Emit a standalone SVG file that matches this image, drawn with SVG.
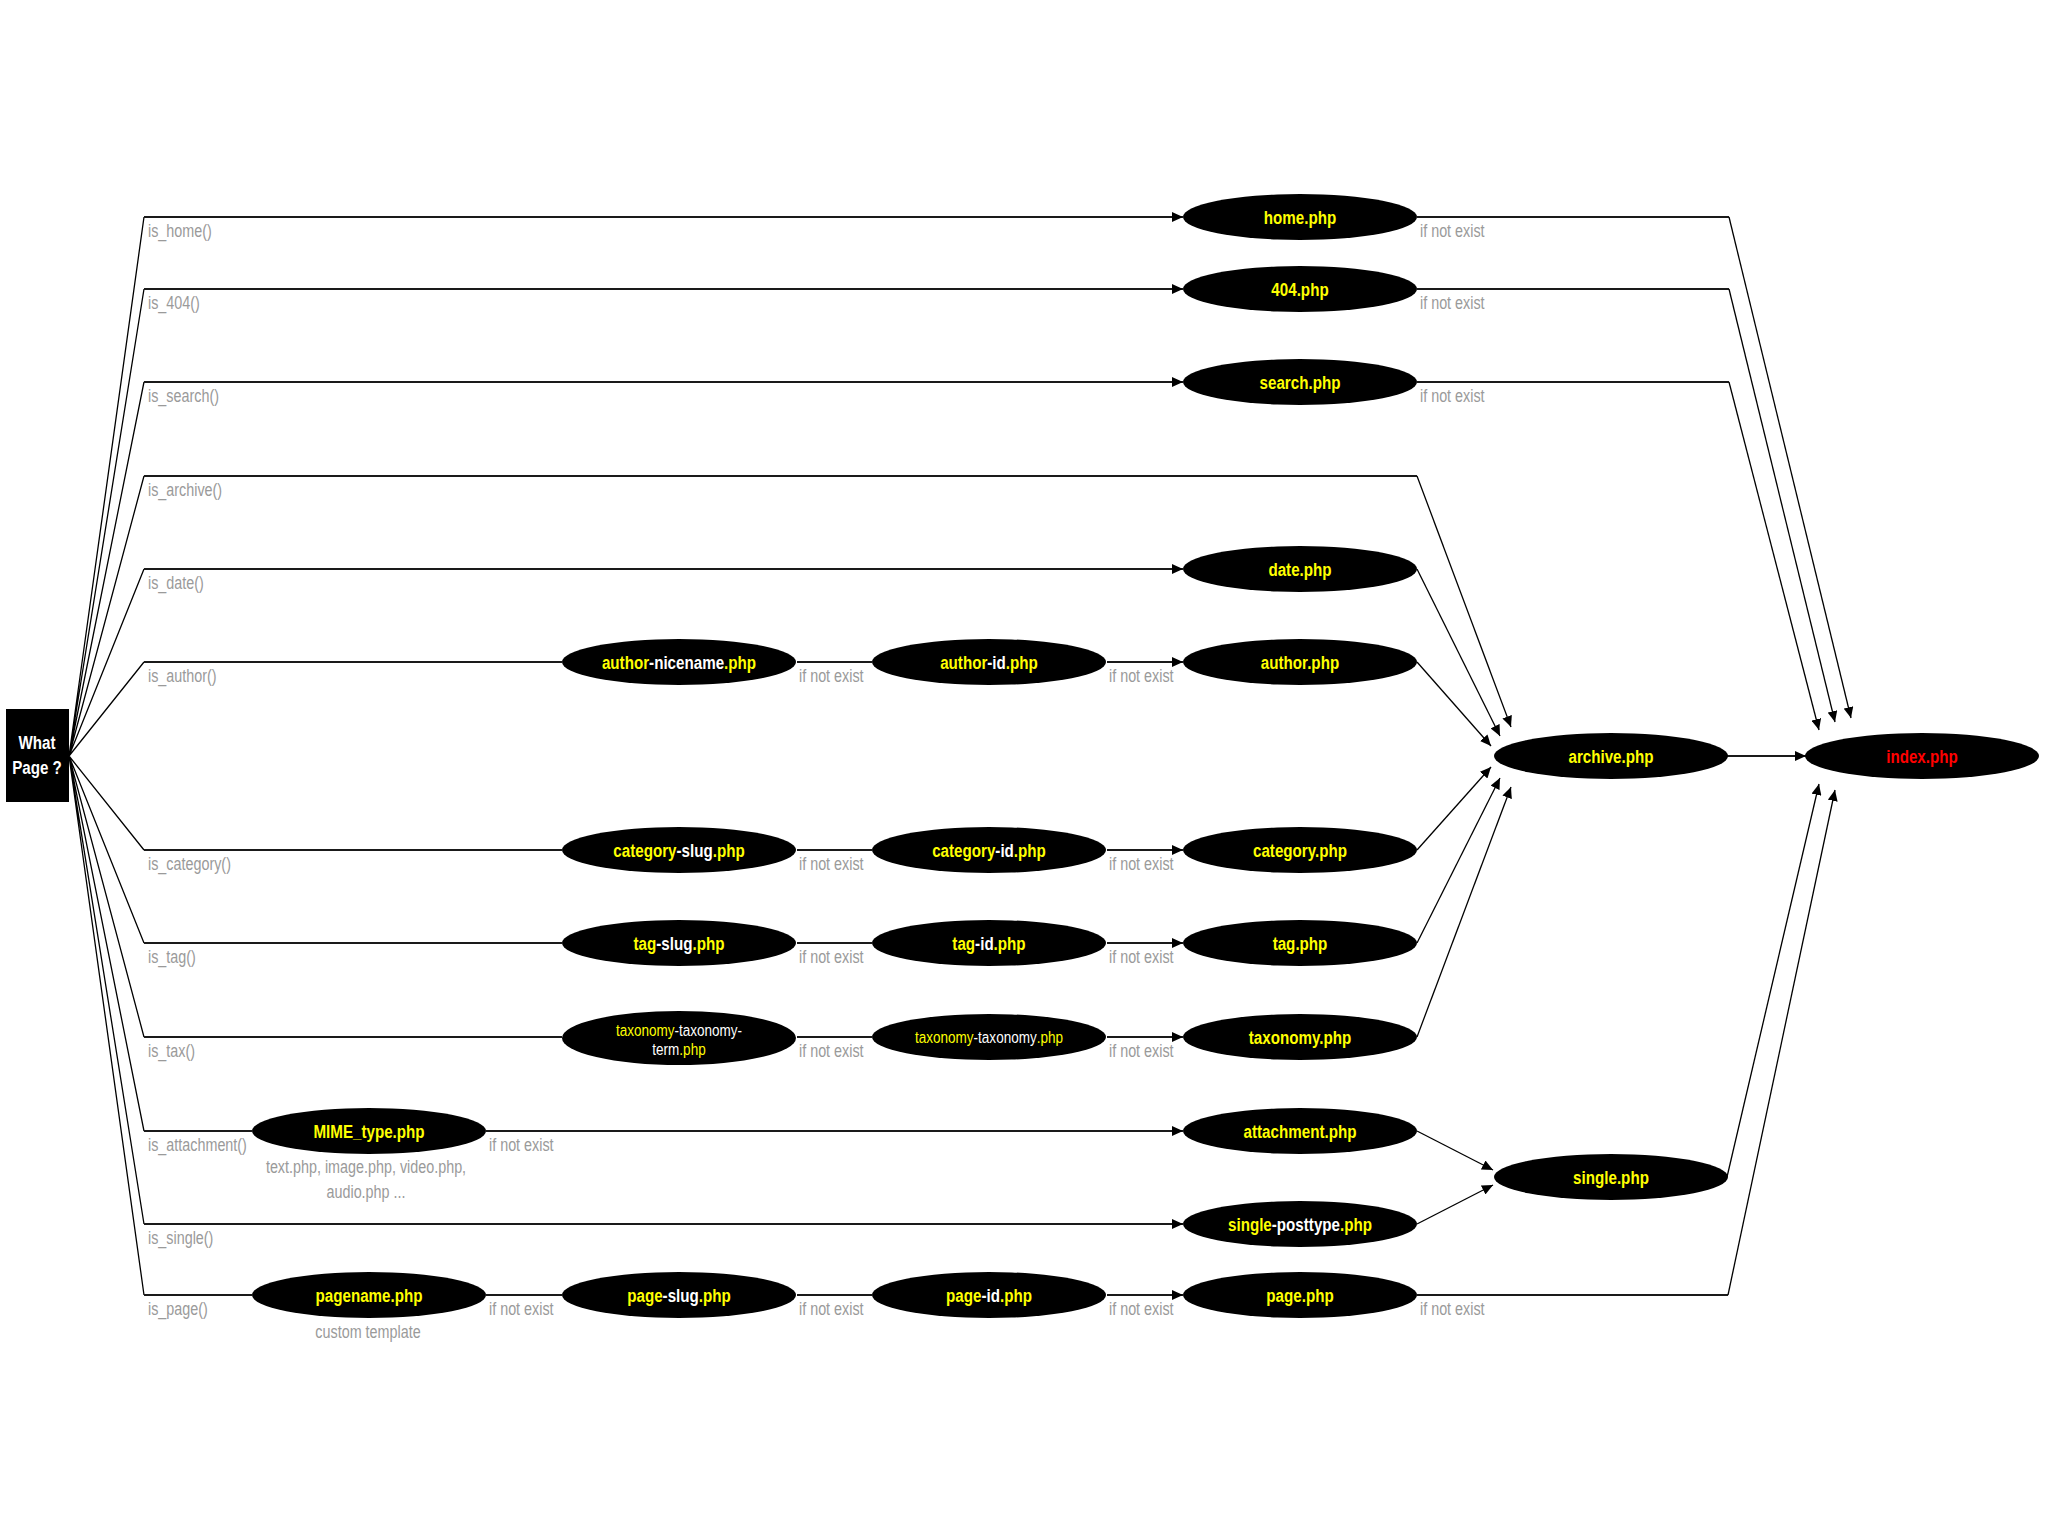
<svg xmlns="http://www.w3.org/2000/svg" width="2048" height="1535" viewBox="0 0 2048 1535">
<style>
.bg{fill:#ffffff}
.node{fill:#000000}
.lbl{font-family:"Liberation Sans",Arial,sans-serif;font-weight:bold;font-size:18.5px;text-anchor:middle;fill:#ffff00}
.sm{font-family:"Liberation Sans",Arial,sans-serif;font-size:16.5px;text-anchor:middle;fill:#ffff00}
.w{fill:#ffffff}
.r{fill:#ff0000}
.note{font-family:"Liberation Sans",Arial,sans-serif;font-size:17.5px;fill:#9a9a9a}
.mid{text-anchor:middle}
.h{stroke:#1a1a1a;stroke-width:2;fill:none}
.d{stroke:#000000;stroke-width:1.3;fill:none}
.box{font-family:"Liberation Sans",Arial,sans-serif;font-weight:bold;font-size:18.5px;text-anchor:middle;fill:#ffffff}
</style>
<defs>
<marker id="arr" markerUnits="userSpaceOnUse" markerWidth="11" markerHeight="10" refX="11" refY="5" orient="auto">
<path d="M0,0 L11,5 L0,10 z" fill="#000"/>
</marker>
</defs>
<rect class="bg" x="0" y="0" width="2048" height="1535"/>

<g id="connectors">
<path class="d" d="M69,756 L144,217 M69,756 L144,289 M69,756 L144,382 M69,756 L144,476 M69,756 L144,569 M69,756 L144,662 M69,756 L144,850 M69,756 L144,943 M69,756 L144,1037 M69,756 L144,1131 M69,756 L144,1224 M69,756 L144,1295"/>
<line class="h" x1="144" y1="217" x2="1183" y2="217" marker-end="url(#arr)"/>
<line class="h" x1="144" y1="289" x2="1183" y2="289" marker-end="url(#arr)"/>
<line class="h" x1="144" y1="382" x2="1183" y2="382" marker-end="url(#arr)"/>
<line class="h" x1="144" y1="476" x2="1417" y2="476"/>
<line class="d" x1="1417" y1="476" x2="1511" y2="727" marker-end="url(#arr)"/>
<line class="h" x1="144" y1="569" x2="1183" y2="569" marker-end="url(#arr)"/>
<line class="h" x1="144" y1="662" x2="562" y2="662"/>
<line class="h" x1="797" y1="662" x2="872" y2="662"/>
<line class="h" x1="1107" y1="662" x2="1183" y2="662" marker-end="url(#arr)"/>
<line class="h" x1="144" y1="850" x2="562" y2="850"/>
<line class="h" x1="797" y1="850" x2="872" y2="850"/>
<line class="h" x1="1107" y1="850" x2="1183" y2="850" marker-end="url(#arr)"/>
<line class="h" x1="144" y1="943" x2="562" y2="943"/>
<line class="h" x1="797" y1="943" x2="872" y2="943"/>
<line class="h" x1="1107" y1="943" x2="1183" y2="943" marker-end="url(#arr)"/>
<line class="h" x1="144" y1="1037" x2="562" y2="1037"/>
<line class="h" x1="797" y1="1037" x2="872" y2="1037"/>
<line class="h" x1="1107" y1="1037" x2="1183" y2="1037" marker-end="url(#arr)"/>
<line class="h" x1="144" y1="1131" x2="252" y2="1131"/>
<line class="h" x1="486" y1="1131" x2="1183" y2="1131" marker-end="url(#arr)"/>
<line class="h" x1="144" y1="1224" x2="1183" y2="1224" marker-end="url(#arr)"/>
<line class="h" x1="144" y1="1295" x2="252" y2="1295"/>
<line class="h" x1="486" y1="1295" x2="562" y2="1295"/>
<line class="h" x1="797" y1="1295" x2="872" y2="1295"/>
<line class="h" x1="1107" y1="1295" x2="1183" y2="1295" marker-end="url(#arr)"/>
<line class="h" x1="1417" y1="1295" x2="1728" y2="1295"/>
<line class="d" x1="1728" y1="1295" x2="1835" y2="790" marker-end="url(#arr)"/>
<line class="h" x1="1417" y1="217" x2="1729" y2="217"/>
<line class="d" x1="1729" y1="217" x2="1851" y2="718" marker-end="url(#arr)"/>
<line class="h" x1="1417" y1="289" x2="1729" y2="289"/>
<line class="d" x1="1729" y1="289" x2="1835" y2="722" marker-end="url(#arr)"/>
<line class="h" x1="1417" y1="382" x2="1729" y2="382"/>
<line class="d" x1="1729" y1="382" x2="1819" y2="730" marker-end="url(#arr)"/>
<line class="d" x1="1417" y1="569" x2="1500" y2="736" marker-end="url(#arr)"/>
<line class="d" x1="1417" y1="662" x2="1491" y2="746" marker-end="url(#arr)"/>
<line class="d" x1="1417" y1="850" x2="1491" y2="767" marker-end="url(#arr)"/>
<line class="d" x1="1417" y1="943" x2="1500" y2="778" marker-end="url(#arr)"/>
<line class="d" x1="1417" y1="1037" x2="1511" y2="787" marker-end="url(#arr)"/>
<line class="h" x1="1727" y1="756" x2="1806" y2="756" marker-end="url(#arr)"/>
<line class="d" x1="1417" y1="1131" x2="1493" y2="1170" marker-end="url(#arr)"/>
<line class="d" x1="1417" y1="1224" x2="1493" y2="1185" marker-end="url(#arr)"/>
<line class="d" x1="1727" y1="1177" x2="1819" y2="784" marker-end="url(#arr)"/>
</g>

<g id="edge-labels">
<text class="note" transform="translate(148,237) scale(0.82,1)">is_home()</text>
<text class="note" transform="translate(148,309) scale(0.82,1)">is_404()</text>
<text class="note" transform="translate(148,402) scale(0.82,1)">is_search()</text>
<text class="note" transform="translate(148,496) scale(0.82,1)">is_archive()</text>
<text class="note" transform="translate(148,589) scale(0.82,1)">is_date()</text>
<text class="note" transform="translate(148,682) scale(0.82,1)">is_author()</text>
<text class="note" transform="translate(148,870) scale(0.82,1)">is_category()</text>
<text class="note" transform="translate(148,963) scale(0.82,1)">is_tag()</text>
<text class="note" transform="translate(148,1057) scale(0.82,1)">is_tax()</text>
<text class="note" transform="translate(148,1151) scale(0.82,1)">is_attachment()</text>
<text class="note" transform="translate(148,1244) scale(0.82,1)">is_single()</text>
<text class="note" transform="translate(148,1315) scale(0.82,1)">is_page()</text>

<text class="note" transform="translate(1420,237) scale(0.82,1)">if not exist</text>
<text class="note" transform="translate(1420,309) scale(0.82,1)">if not exist</text>
<text class="note" transform="translate(1420,402) scale(0.82,1)">if not exist</text>
<text class="note" transform="translate(799,682) scale(0.82,1)">if not exist</text>
<text class="note" transform="translate(1109,682) scale(0.82,1)">if not exist</text>
<text class="note" transform="translate(799,870) scale(0.82,1)">if not exist</text>
<text class="note" transform="translate(1109,870) scale(0.82,1)">if not exist</text>
<text class="note" transform="translate(799,963) scale(0.82,1)">if not exist</text>
<text class="note" transform="translate(1109,963) scale(0.82,1)">if not exist</text>
<text class="note" transform="translate(799,1057) scale(0.82,1)">if not exist</text>
<text class="note" transform="translate(1109,1057) scale(0.82,1)">if not exist</text>
<text class="note" transform="translate(489,1151) scale(0.82,1)">if not exist</text>
<text class="note" transform="translate(489,1315) scale(0.82,1)">if not exist</text>
<text class="note" transform="translate(799,1315) scale(0.82,1)">if not exist</text>
<text class="note" transform="translate(1109,1315) scale(0.82,1)">if not exist</text>
<text class="note" transform="translate(1420,1315) scale(0.82,1)">if not exist</text>

<text class="note mid" transform="translate(366,1173) scale(0.82,1)">text.php, image.php, video.php,</text>
<text class="note mid" transform="translate(366,1198) scale(0.82,1)">audio.php ...</text>
<text class="note mid" transform="translate(368,1338) scale(0.82,1)">custom template</text>
</g>

<g id="what-page">
<rect class="node" x="6" y="709" width="63" height="93"/>
<text class="box" transform="translate(37,749) scale(0.82,1)">What</text>
<text class="box" transform="translate(37,774) scale(0.82,1)">Page ?</text>
</g>

<g id="home-php"><ellipse class="node" cx="1300" cy="217" rx="117" ry="23"/><text class="lbl" transform="translate(1300,224) scale(0.82,1)">home.php</text></g>
<g id="404-php"><ellipse class="node" cx="1300" cy="289" rx="117" ry="23"/><text class="lbl" transform="translate(1300,296) scale(0.82,1)">404.php</text></g>
<g id="search-php"><ellipse class="node" cx="1300" cy="382" rx="117" ry="23"/><text class="lbl" transform="translate(1300,389) scale(0.82,1)">search.php</text></g>
<g id="date-php"><ellipse class="node" cx="1300" cy="569" rx="117" ry="23"/><text class="lbl" transform="translate(1300,576) scale(0.82,1)">date.php</text></g>

<g id="author-nicename-php"><ellipse class="node" cx="679" cy="662" rx="117" ry="23"/><text class="lbl" transform="translate(679,669) scale(0.82,1)">author<tspan class="w">-nicename</tspan>.php</text></g>
<g id="author-id-php"><ellipse class="node" cx="989" cy="662" rx="117" ry="23"/><text class="lbl" transform="translate(989,669) scale(0.82,1)">author<tspan class="w">-id</tspan>.php</text></g>
<g id="author-php"><ellipse class="node" cx="1300" cy="662" rx="117" ry="23"/><text class="lbl" transform="translate(1300,669) scale(0.82,1)">author.php</text></g>

<g id="archive-php"><ellipse class="node" cx="1611" cy="756" rx="117" ry="23"/><text class="lbl" transform="translate(1611,763) scale(0.82,1)">archive.php</text></g>
<g id="index-php"><ellipse class="node" cx="1922" cy="756" rx="117" ry="23"/><text class="lbl r" transform="translate(1922,763) scale(0.82,1)">index.php</text></g>

<g id="category-slug-php"><ellipse class="node" cx="679" cy="850" rx="117" ry="23"/><text class="lbl" transform="translate(679,857) scale(0.82,1)">category<tspan class="w">-slug</tspan>.php</text></g>
<g id="category-id-php"><ellipse class="node" cx="989" cy="850" rx="117" ry="23"/><text class="lbl" transform="translate(989,857) scale(0.82,1)">category<tspan class="w">-id</tspan>.php</text></g>
<g id="category-php"><ellipse class="node" cx="1300" cy="850" rx="117" ry="23"/><text class="lbl" transform="translate(1300,857) scale(0.82,1)">category.php</text></g>

<g id="tag-slug-php"><ellipse class="node" cx="679" cy="943" rx="117" ry="23"/><text class="lbl" transform="translate(679,950) scale(0.82,1)">tag<tspan class="w">-slug</tspan>.php</text></g>
<g id="tag-id-php"><ellipse class="node" cx="989" cy="943" rx="117" ry="23"/><text class="lbl" transform="translate(989,950) scale(0.82,1)">tag<tspan class="w">-id</tspan>.php</text></g>
<g id="tag-php"><ellipse class="node" cx="1300" cy="943" rx="117" ry="23"/><text class="lbl" transform="translate(1300,950) scale(0.82,1)">tag.php</text></g>

<g id="taxonomy-taxonomy-term-php"><ellipse class="node" cx="679" cy="1038" rx="117" ry="27"/><text class="sm" transform="translate(679,1036) scale(0.82,1)">taxonomy<tspan class="w">-taxonomy-</tspan></text><text class="sm" transform="translate(679,1055) scale(0.82,1)"><tspan class="w">term</tspan>.php</text></g>
<g id="taxonomy-taxonomy-php"><ellipse class="node" cx="989" cy="1037" rx="117" ry="23"/><text class="sm" transform="translate(989,1043) scale(0.82,1)">taxonomy<tspan class="w">-taxonomy</tspan>.php</text></g>
<g id="taxonomy-php"><ellipse class="node" cx="1300" cy="1037" rx="117" ry="23"/><text class="lbl" transform="translate(1300,1044) scale(0.82,1)">taxonomy.php</text></g>

<g id="mime-type-php"><ellipse class="node" cx="369" cy="1131" rx="117" ry="23"/><text class="lbl" transform="translate(369,1138) scale(0.82,1)">MIME_type.php</text></g>
<g id="attachment-php"><ellipse class="node" cx="1300" cy="1131" rx="117" ry="23"/><text class="lbl" transform="translate(1300,1138) scale(0.82,1)">attachment.php</text></g>
<g id="single-php"><ellipse class="node" cx="1611" cy="1177" rx="117" ry="23"/><text class="lbl" transform="translate(1611,1184) scale(0.82,1)">single.php</text></g>
<g id="single-posttype-php"><ellipse class="node" cx="1300" cy="1224" rx="117" ry="23"/><text class="lbl" transform="translate(1300,1231) scale(0.82,1)">single<tspan class="w">-posttype</tspan>.php</text></g>

<g id="pagename-php"><ellipse class="node" cx="369" cy="1295" rx="117" ry="23"/><text class="lbl" transform="translate(369,1302) scale(0.82,1)">pagename.php</text></g>
<g id="page-slug-php"><ellipse class="node" cx="679" cy="1295" rx="117" ry="23"/><text class="lbl" transform="translate(679,1302) scale(0.82,1)">page<tspan class="w">-slug</tspan>.php</text></g>
<g id="page-id-php"><ellipse class="node" cx="989" cy="1295" rx="117" ry="23"/><text class="lbl" transform="translate(989,1302) scale(0.82,1)">page<tspan class="w">-id</tspan>.php</text></g>
<g id="page-php"><ellipse class="node" cx="1300" cy="1295" rx="117" ry="23"/><text class="lbl" transform="translate(1300,1302) scale(0.82,1)">page.php</text></g>
</svg>
